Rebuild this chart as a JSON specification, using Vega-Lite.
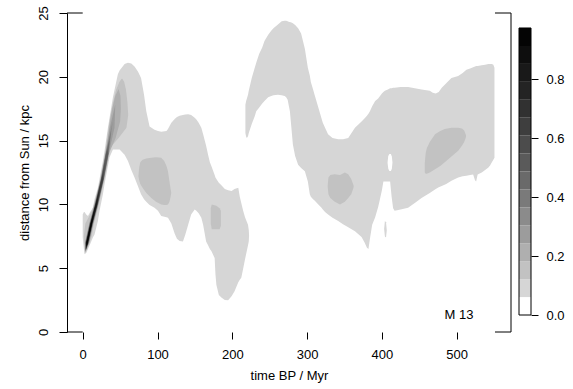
{
  "$schema": "https://vega.github.io/schema/vega-lite/v6.json",
  "background": "white",
  "padding": {"left": 17, "top": 5, "right": 2, "bottom": 2},
  "bounds": "flush",
  "spacing": 8,
  "config": {
    "view": {"stroke": null},
    "axis": {"labelFont": "Liberation Sans", "titleFont": "Liberation Sans", "labelFontSize": 13, "titleFontSize": 13, "titleFontWeight": "normal", "labelColor": "#000", "titleColor": "#000", "tickColor": "#000", "domainColor": "#000", "grid": false},
    "text": {"font": "Liberation Sans"}
  },
  "datasets": {
    "light": [
      {"reg":"A","lev":1,"t":0,"d":7.4,"d2":9.2},{"reg":"A","lev":1,"t":1.6,"d":6.5,"d2":9.4},{"reg":"A","lev":1,"t":2.4,"d":6.1,"d2":9.4},{"reg":"A","lev":1,"t":4.7,"d":6.2,"d2":9.2},{"reg":"A","lev":1,"t":7,"d":6.5,"d2":9.1},{"reg":"A","lev":1,"t":10,"d":6.9,"d2":9.4},{"reg":"A","lev":1,"t":13.6,"d":7.4,"d2":9.74},{"reg":"A","lev":1,"t":15.8,"d":7.65,"d2":10.4},{"reg":"A","lev":1,"t":20.3,"d":8.7,"d2":11.3},{"reg":"A","lev":1,"t":22.5,"d":9.5,"d2":12.0},{"reg":"A","lev":1,"t":27,"d":10.8,"d2":13.4},{"reg":"A","lev":1,"t":29.2,"d":11.6,"d2":14.2},{"reg":"A","lev":1,"t":33.7,"d":13.0,"d2":16.0},{"reg":"A","lev":1,"t":35.9,"d":13.7,"d2":16.8},{"reg":"A","lev":1,"t":40.4,"d":14.3,"d2":18.4},{"reg":"A","lev":1,"t":47,"d":14.3,"d2":20.2},{"reg":"A","lev":1,"t":49.3,"d":14.3,"d2":20.5},{"reg":"A","lev":1,"t":56,"d":13.9,"d2":21.0},{"reg":"A","lev":1,"t":60.5,"d":13.4,"d2":21.1},{"reg":"A","lev":1,"t":65,"d":12.7,"d2":21.05},{"reg":"A","lev":1,"t":69.3,"d":12.1,"d2":20.8},{"reg":"A","lev":1,"t":74,"d":11.4,"d2":20.4},{"reg":"A","lev":1,"t":78,"d":10.8,"d2":19.9},{"reg":"A","lev":1,"t":82,"d":10.4,"d2":18.6},{"reg":"A","lev":1,"t":85,"d":10.2,"d2":17.3},{"reg":"A","lev":1,"t":89.4,"d":9.95,"d2":16.1},{"reg":"A","lev":1,"t":96,"d":9.74,"d2":15.85},{"reg":"A","lev":1,"t":100.6,"d":9.5,"d2":15.75},{"reg":"A","lev":1,"t":105,"d":9.1,"d2":15.7},{"reg":"A","lev":1,"t":112,"d":9.0,"d2":15.75},{"reg":"A","lev":1,"t":114,"d":8.96,"d2":15.9},{"reg":"A","lev":1,"t":118.5,"d":8.5,"d2":16.4},{"reg":"A","lev":1,"t":123,"d":7.7,"d2":16.7},{"reg":"A","lev":1,"t":126,"d":7.3,"d2":16.85},{"reg":"A","lev":1,"t":129.6,"d":7.13,"d2":16.95},{"reg":"A","lev":1,"t":134,"d":7.1,"d2":17.0},{"reg":"A","lev":1,"t":137,"d":7.6,"d2":17.05},{"reg":"A","lev":1,"t":141,"d":8.4,"d2":17.06},{"reg":"A","lev":1,"t":145,"d":9.2,"d2":17.0},{"reg":"A","lev":1,"t":149.7,"d":9.6,"d2":16.8},{"reg":"A","lev":1,"t":152,"d":9.5,"d2":16.65},{"reg":"A","lev":1,"t":155,"d":9.3,"d2":16.4},{"reg":"A","lev":1,"t":158.6,"d":8.96,"d2":16.0},{"reg":"A","lev":1,"t":161,"d":8.4,"d2":15.5},{"reg":"A","lev":1,"t":165,"d":7.1,"d2":14.6},{"reg":"A","lev":1,"t":167.6,"d":6.8,"d2":13.9},{"reg":"A","lev":1,"t":170,"d":6.5,"d2":13.3},{"reg":"A","lev":1,"t":172,"d":6.35,"d2":13.0},{"reg":"A","lev":1,"t":176.4,"d":5.8,"d2":12.3},{"reg":"A","lev":1,"t":177.5,"d":4.5,"d2":12.1},{"reg":"A","lev":1,"t":178.7,"d":3.7,"d2":12.0},{"reg":"A","lev":1,"t":182,"d":2.9,"d2":11.7},{"reg":"A","lev":1,"t":185.4,"d":2.7,"d2":11.5},{"reg":"A","lev":1,"t":190,"d":2.5,"d2":11.2},{"reg":"A","lev":1,"t":194.4,"d":2.48,"d2":11.1},{"reg":"A","lev":1,"t":199,"d":2.8,"d2":11.05},{"reg":"A","lev":1,"t":203,"d":3.2,"d2":11.2},{"reg":"A","lev":1,"t":208,"d":3.9,"d2":11.3},{"reg":"A","lev":1,"t":210,"d":4.1,"d2":10.6},{"reg":"A","lev":1,"t":212,"d":4.25,"d2":10.1},{"reg":"A","lev":1,"t":214.5,"d":4.95,"d2":9.5},{"reg":"A","lev":1,"t":217,"d":5.7,"d2":9.0},{"reg":"A","lev":1,"t":219,"d":6.25,"d2":8.7},{"reg":"A","lev":1,"t":221,"d":6.8,"d2":8.4},{"reg":"A","lev":1,"t":222,"d":7.1,"d2":8.0},{"reg":"A","lev":1,"t":222.4,"d":7.55,"d2":7.6},
      {"reg":"D","lev":1,"t":217.5,"d":15.6,"d2":17.8},{"reg":"D","lev":1,"t":218.5,"d":15.3,"d2":18.1},{"reg":"D","lev":1,"t":219.5,"d":15.2,"d2":18.3},{"reg":"D","lev":1,"t":221,"d":15.35,"d2":18.6},{"reg":"D","lev":1,"t":222,"d":15.6,"d2":18.9},{"reg":"D","lev":1,"t":226,"d":16.3,"d2":19.9},{"reg":"D","lev":1,"t":230,"d":16.9,"d2":20.7},{"reg":"D","lev":1,"t":232,"d":17.3,"d2":21.1},{"reg":"D","lev":1,"t":236,"d":17.6,"d2":21.8},{"reg":"D","lev":1,"t":240,"d":17.9,"d2":22.3},{"reg":"D","lev":1,"t":243,"d":18.1,"d2":22.8},{"reg":"D","lev":1,"t":248,"d":18.4,"d2":23.3},{"reg":"D","lev":1,"t":252,"d":18.5,"d2":23.6},{"reg":"D","lev":1,"t":255,"d":18.55,"d2":23.8},{"reg":"D","lev":1,"t":261,"d":18.6,"d2":24.1},{"reg":"D","lev":1,"t":266,"d":18.55,"d2":24.35},{"reg":"D","lev":1,"t":270,"d":18.5,"d2":24.4},{"reg":"D","lev":1,"t":272,"d":18.4,"d2":24.4},{"reg":"D","lev":1,"t":274,"d":18.2,"d2":24.35},{"reg":"D","lev":1,"t":276,"d":17.6,"d2":24.3},{"reg":"D","lev":1,"t":277,"d":17.3,"d2":24.3},{"reg":"D","lev":1,"t":279,"d":16.0,"d2":24.25},{"reg":"D","lev":1,"t":281,"d":14.7,"d2":24.2},{"reg":"D","lev":1,"t":284,"d":13.8,"d2":24.05},{"reg":"D","lev":1,"t":288,"d":13.1,"d2":23.8},{"reg":"D","lev":1,"t":292,"d":12.85,"d2":23.4},{"reg":"D","lev":1,"t":297,"d":12.6,"d2":22.2},{"reg":"D","lev":1,"t":301,"d":11.8,"d2":20.7},{"reg":"D","lev":1,"t":303.6,"d":10.8,"d2":20.1},{"reg":"D","lev":1,"t":305,"d":10.6,"d2":19.6},{"reg":"D","lev":1,"t":308,"d":10.4,"d2":19.0},{"reg":"D","lev":1,"t":310,"d":10.3,"d2":18.6},{"reg":"D","lev":1,"t":315,"d":10.0,"d2":17.6},{"reg":"D","lev":1,"t":319,"d":9.75,"d2":16.8},{"reg":"D","lev":1,"t":321,"d":9.6,"d2":16.4},{"reg":"D","lev":1,"t":324,"d":9.4,"d2":16.0},{"reg":"D","lev":1,"t":328,"d":9.2,"d2":15.5},{"reg":"D","lev":1,"t":334,"d":8.95,"d2":15.2},{"reg":"D","lev":1,"t":341.6,"d":8.7,"d2":15.1},{"reg":"D","lev":1,"t":348,"d":8.45,"d2":15.1},{"reg":"D","lev":1,"t":355,"d":8.2,"d2":15.2},{"reg":"D","lev":1,"t":364,"d":7.9,"d2":16.0},{"reg":"D","lev":1,"t":372.8,"d":7.45,"d2":16.5},{"reg":"D","lev":1,"t":377,"d":7.0,"d2":16.75},{"reg":"D","lev":1,"t":380,"d":6.6,"d2":16.95},{"reg":"D","lev":1,"t":382,"d":6.5,"d2":17.1},{"reg":"D","lev":1,"t":384,"d":7.3,"d2":17.3},{"reg":"D","lev":1,"t":387,"d":8.4,"d2":17.7},{"reg":"D","lev":1,"t":391,"d":9.0,"d2":18.1},{"reg":"D","lev":1,"t":395,"d":9.8,"d2":18.3},{"reg":"D","lev":1,"t":397,"d":10.3,"d2":18.45},{"reg":"D","lev":1,"t":400,"d":11.1,"d2":18.7},{"reg":"D","lev":1,"t":402,"d":11.8,"d2":18.8},{"reg":"D","lev":1,"t":404,"d":11.8,"d2":18.9},{"reg":"D","lev":1,"t":408,"d":11.8,"d2":19.0},{"reg":"D","lev":1,"t":411,"d":11.8,"d2":19.1},{"reg":"D","lev":1,"t":413,"d":10.6,"d2":19.1},{"reg":"D","lev":1,"t":415,"d":9.7,"d2":19.15},{"reg":"D","lev":1,"t":417,"d":9.5,"d2":19.15},{"reg":"D","lev":1,"t":425,"d":9.6,"d2":19.2},{"reg":"D","lev":1,"t":435,"d":9.74,"d2":19.2},{"reg":"D","lev":1,"t":444,"d":10.1,"d2":19.1},{"reg":"D","lev":1,"t":453,"d":10.5,"d2":19.0},{"reg":"D","lev":1,"t":464,"d":10.9,"d2":18.9},{"reg":"D","lev":1,"t":468,"d":11.05,"d2":18.75},{"reg":"D","lev":1,"t":472,"d":11.2,"d2":18.7},{"reg":"D","lev":1,"t":476,"d":11.35,"d2":18.8},{"reg":"D","lev":1,"t":480,"d":11.45,"d2":19.15},{"reg":"D","lev":1,"t":486,"d":11.6,"d2":19.5},{"reg":"D","lev":1,"t":493,"d":11.85,"d2":19.9},{"reg":"D","lev":1,"t":502,"d":12.1,"d2":20.06},{"reg":"D","lev":1,"t":508,"d":12.2,"d2":20.3},{"reg":"D","lev":1,"t":513,"d":12.25,"d2":20.55},{"reg":"D","lev":1,"t":518,"d":12.3,"d2":20.65},{"reg":"D","lev":1,"t":522,"d":12.35,"d2":20.75},{"reg":"D","lev":1,"t":524.5,"d":11.9,"d2":20.8},{"reg":"D","lev":1,"t":526,"d":11.8,"d2":20.85},{"reg":"D","lev":1,"t":528,"d":12.35,"d2":20.85},{"reg":"D","lev":1,"t":533.5,"d":12.5,"d2":20.9},{"reg":"D","lev":1,"t":538,"d":12.7,"d2":20.95},{"reg":"D","lev":1,"t":542.4,"d":12.9,"d2":21.0},{"reg":"D","lev":1,"t":544.6,"d":13.05,"d2":21.0},{"reg":"D","lev":1,"t":547,"d":13.3,"d2":21.0},{"reg":"D","lev":1,"t":549,"d":13.5,"d2":20.95},{"reg":"D","lev":1,"t":550.5,"d":13.66,"d2":20.7},
      {"reg":"D2","lev":1,"t":403,"d":8.05,"d2":8.1},{"reg":"D2","lev":1,"t":404,"d":7.5,"d2":8.7},{"reg":"D2","lev":1,"t":405.5,"d":7.4,"d2":8.6},{"reg":"D2","lev":1,"t":406.5,"d":7.95,"d2":8.0}
    ],
    "holes": [
      {"reg":"H","lev":0,"t":407.6,"d":13.25,"d2":13.3},{"reg":"H","lev":0,"t":408.5,"d":12.8,"d2":13.8},{"reg":"H","lev":0,"t":410,"d":12.62,"d2":13.95},{"reg":"H","lev":0,"t":412,"d":12.62,"d2":13.95},{"reg":"H","lev":0,"t":413.3,"d":12.8,"d2":13.75},{"reg":"H","lev":0,"t":414.1,"d":13.25,"d2":13.3}
    ],
    "blobs": [
      {"reg":"B","lev":2,"t":74.5,"d":12.2,"d2":12.25},{"reg":"B","lev":2,"t":75.5,"d":11.9,"d2":12.9},{"reg":"B","lev":2,"t":77,"d":11.6,"d2":13.3},{"reg":"B","lev":2,"t":80,"d":11.3,"d2":13.5},{"reg":"B","lev":2,"t":85,"d":10.9,"d2":13.6},{"reg":"B","lev":2,"t":91.7,"d":10.5,"d2":13.65},{"reg":"B","lev":2,"t":98,"d":10.2,"d2":13.7},{"reg":"B","lev":2,"t":105,"d":10.0,"d2":13.66},{"reg":"B","lev":2,"t":109,"d":9.95,"d2":13.4},{"reg":"B","lev":2,"t":112,"d":9.95,"d2":13.0},{"reg":"B","lev":2,"t":114,"d":10.0,"d2":12.6},{"reg":"B","lev":2,"t":116,"d":10.2,"d2":11.8},{"reg":"B","lev":2,"t":117.5,"d":10.6,"d2":11.2},{"reg":"B","lev":2,"t":118.3,"d":10.9,"d2":10.95},
      {"reg":"C","lev":2,"t":171.2,"d":8.5,"d2":9.7},{"reg":"C","lev":2,"t":172.5,"d":8.05,"d2":10.0},{"reg":"C","lev":2,"t":178.7,"d":8.05,"d2":9.9},{"reg":"C","lev":2,"t":183,"d":8.05,"d2":9.7},{"reg":"C","lev":2,"t":184.7,"d":8.3,"d2":9.5},
      {"reg":"E","lev":2,"t":327.5,"d":11.4,"d2":11.45},{"reg":"E","lev":2,"t":328.5,"d":10.8,"d2":12.1},{"reg":"E","lev":2,"t":331,"d":10.5,"d2":12.3},{"reg":"E","lev":2,"t":337,"d":10.2,"d2":12.36},{"reg":"E","lev":2,"t":344,"d":10.0,"d2":12.3},{"reg":"E","lev":2,"t":350.5,"d":10.2,"d2":12.5},{"reg":"E","lev":2,"t":355,"d":10.5,"d2":12.36},{"reg":"E","lev":2,"t":359,"d":10.8,"d2":12.0},{"reg":"E","lev":2,"t":361.7,"d":11.25,"d2":11.55},{"reg":"E","lev":2,"t":362.3,"d":11.4,"d2":11.45},
      {"reg":"F","lev":2,"t":457.3,"d":12.5,"d2":13.2},{"reg":"F","lev":2,"t":458.5,"d":12.4,"d2":14.0},{"reg":"F","lev":2,"t":460,"d":12.4,"d2":14.4},{"reg":"F","lev":2,"t":464,"d":12.5,"d2":14.9},{"reg":"F","lev":2,"t":471,"d":12.75,"d2":15.5},{"reg":"F","lev":2,"t":478,"d":13.0,"d2":15.75},{"reg":"F","lev":2,"t":484,"d":13.3,"d2":15.9},{"reg":"F","lev":2,"t":493,"d":13.75,"d2":16.0},{"reg":"F","lev":2,"t":502,"d":14.2,"d2":16.0},{"reg":"F","lev":2,"t":507,"d":14.6,"d2":15.95},{"reg":"F","lev":2,"t":510,"d":14.9,"d2":15.8},{"reg":"F","lev":2,"t":512,"d":15.2,"d2":15.5},{"reg":"F","lev":2,"t":512.5,"d":15.35,"d2":15.4}
    ],
    "streak": [
      {"lev":2,"d":6.2,"t":3.0,"t2":3.2},{"lev":2,"d":6.5,"t":2.5,"t2":6.3},{"lev":2,"d":7.5,"t":1.5,"t2":12},{"lev":2,"d":8.5,"t":3.5,"t2":15},{"lev":2,"d":9.5,"t":12.5,"t2":19.5},{"lev":2,"d":10.5,"t":17.5,"t2":23.5},{"lev":2,"d":11.5,"t":21.8,"t2":27.3},{"lev":2,"d":12.5,"t":25,"t2":31},{"lev":2,"d":13.5,"t":28.3,"t2":34.2},{"lev":2,"d":14.5,"t":31,"t2":37.5},{"lev":2,"d":15.2,"t":32.5,"t2":48},{"lev":2,"d":16,"t":34.5,"t2":58.5},{"lev":2,"d":17,"t":37.2,"t2":60.8},{"lev":2,"d":18,"t":40.6,"t2":59.8},{"lev":2,"d":19,"t":44.8,"t2":57.8},{"lev":2,"d":19.6,"t":49,"t2":55.5},{"lev":2,"d":19.85,"t":52,"t2":53},
      {"lev":3,"d":6.25,"t":3.5,"t2":3.5},{"lev":3,"d":7,"t":2.9,"t2":8.7},{"lev":3,"d":8.5,"t":8.7,"t2":14.3},{"lev":3,"d":10,"t":15.6,"t2":20.9},{"lev":3,"d":12,"t":23.9,"t2":28.7},{"lev":3,"d":14,"t":30.3,"t2":35.2},{"lev":3,"d":15.2,"t":33.8,"t2":44},{"lev":3,"d":16.5,"t":36.5,"t2":50},{"lev":3,"d":17.5,"t":39.5,"t2":51},{"lev":3,"d":18.5,"t":43.5,"t2":50.5},{"lev":3,"d":19.05,"t":48,"t2":48},
      {"lev":4,"d":6.29,"t":3.6,"t2":3.6},{"lev":4,"d":7,"t":3.25,"t2":8.35},{"lev":4,"d":8.5,"t":9.0,"t2":14.0},{"lev":4,"d":10,"t":15.9,"t2":20.6},{"lev":4,"d":12,"t":24.2,"t2":28.4},{"lev":4,"d":14,"t":30.6,"t2":34.9},{"lev":4,"d":16,"t":36.3,"t2":42.5},{"lev":4,"d":17.8,"t":43.5,"t2":43.5},
      {"lev":5,"d":6.33,"t":3.7,"t2":3.7},{"lev":5,"d":7,"t":3.5,"t2":8.1},{"lev":5,"d":8.5,"t":9.3,"t2":13.7},{"lev":5,"d":10,"t":16.2,"t2":20.3},{"lev":5,"d":12,"t":24.4,"t2":28.2},{"lev":5,"d":14,"t":30.8,"t2":34.7},{"lev":5,"d":16.5,"t":40,"t2":40},
      {"lev":6,"d":6.37,"t":3.85,"t2":3.85},{"lev":6,"d":7,"t":3.75,"t2":7.85},{"lev":6,"d":8.5,"t":9.5,"t2":13.5},{"lev":6,"d":10,"t":16.4,"t2":20.1},{"lev":6,"d":12,"t":24.6,"t2":28.0},{"lev":6,"d":14,"t":31.0,"t2":34.5},{"lev":6,"d":15.8,"t":37.9,"t2":37.9},
      {"lev":7,"d":6.41,"t":4.0,"t2":4.0},{"lev":7,"d":7,"t":4.0,"t2":7.6},{"lev":7,"d":8.5,"t":9.75,"t2":13.25},{"lev":7,"d":10,"t":16.6,"t2":19.9},{"lev":7,"d":12,"t":24.8,"t2":27.8},{"lev":7,"d":14,"t":31.2,"t2":34.3},{"lev":7,"d":15.0,"t":35.6,"t2":35.6},
      {"lev":8,"d":6.45,"t":4.1,"t2":4.1},{"lev":8,"d":7,"t":4.2,"t2":7.4},{"lev":8,"d":8.5,"t":9.95,"t2":13.05},{"lev":8,"d":10,"t":16.8,"t2":19.7},{"lev":8,"d":12,"t":25.0,"t2":27.6},{"lev":8,"d":14,"t":31.4,"t2":34.1},{"lev":8,"d":14.3,"t":32.9,"t2":32.9},
      {"lev":9,"d":6.49,"t":4.25,"t2":4.25},{"lev":9,"d":7,"t":4.37,"t2":7.23},{"lev":9,"d":8.5,"t":10.1,"t2":12.9},{"lev":9,"d":10,"t":16.95,"t2":19.55},{"lev":9,"d":12,"t":25.1,"t2":27.5},{"lev":9,"d":13.3,"t":30.0,"t2":30.0},
      {"lev":10,"d":6.53,"t":4.4,"t2":4.4},{"lev":10,"d":7,"t":4.54,"t2":7.06},{"lev":10,"d":8.5,"t":10.3,"t2":12.7},{"lev":10,"d":10,"t":17.1,"t2":19.4},{"lev":10,"d":12,"t":25.3,"t2":27.3},{"lev":10,"d":12.4,"t":26.6,"t2":26.6},
      {"lev":11,"d":6.57,"t":4.55,"t2":4.55},{"lev":11,"d":7,"t":4.68,"t2":6.92},{"lev":11,"d":8.5,"t":10.4,"t2":12.6},{"lev":11,"d":10,"t":17.2,"t2":19.3},{"lev":11,"d":11.6,"t":24.0,"t2":24.0},
      {"lev":12,"d":6.61,"t":4.7,"t2":4.7},{"lev":12,"d":7,"t":4.8,"t2":6.8},{"lev":12,"d":8.5,"t":10.55,"t2":12.45},{"lev":12,"d":10,"t":17.35,"t2":19.15},{"lev":12,"d":11.0,"t":21.7,"t2":21.7},
      {"lev":13,"d":6.65,"t":4.85,"t2":4.85},{"lev":13,"d":7,"t":4.95,"t2":6.65},{"lev":13,"d":8.5,"t":10.7,"t2":12.3},{"lev":13,"d":10,"t":17.5,"t2":19.0},{"lev":13,"d":10.5,"t":19.9,"t2":19.9},
      {"lev":14,"d":6.69,"t":5.0,"t2":5.0},{"lev":14,"d":7,"t":5.05,"t2":6.55},{"lev":14,"d":8.5,"t":10.8,"t2":12.2},{"lev":14,"d":9.9,"t":17.2,"t2":17.2},
      {"lev":15,"d":6.73,"t":5.1,"t2":5.1},{"lev":15,"d":7,"t":5.15,"t2":6.45},{"lev":15,"d":8.5,"t":10.9,"t2":12.1},{"lev":15,"d":9.4,"t":15.3,"t2":15.3}
    ],
    "frame": [
      {"t":-21,"t2":0,"d":25,"d2":25},{"t":-21,"t2":0,"d":0,"d2":0},{"t":551.2,"t2":572.6,"d":25,"d2":25},{"t":551.2,"t2":572.6,"d":0,"d2":0},{"t":572.6,"t2":572.6,"d":0,"d2":25}
    ],
    "note": [{"t":503,"d":1.3,"txt":"M 13"}],
    "bar": [
      {"lev":0,"lo":0,"hi":0.0608},{"lev":1,"lo":0.0608,"hi":0.1216},{"lev":2,"lo":0.1216,"hi":0.1824},{"lev":3,"lo":0.1824,"hi":0.2432},{"lev":4,"lo":0.2432,"hi":0.304},{"lev":5,"lo":0.304,"hi":0.3648},{"lev":6,"lo":0.3648,"hi":0.4256},{"lev":7,"lo":0.4256,"hi":0.4864},{"lev":8,"lo":0.4864,"hi":0.5472},{"lev":9,"lo":0.5472,"hi":0.608},{"lev":10,"lo":0.608,"hi":0.6688},{"lev":11,"lo":0.6688,"hi":0.7296},{"lev":12,"lo":0.7296,"hi":0.7904},{"lev":13,"lo":0.7904,"hi":0.8512},{"lev":14,"lo":0.8512,"hi":0.912},{"lev":15,"lo":0.912,"hi":0.973}
    ],
    "barframe": [{"lo":0,"hi":0.973}]
  },
  "hconcat": [
    {
      "width": 444,
      "height": 319,
      "encoding": {
        "x": {"field": "t", "type": "quantitative", "scale": {"domain": [-21, 572.6], "nice": false, "zero": false}, "axis": {"title": "time BP / Myr", "values": [0,100,200,300,400,500], "domain": false, "tickSize": 7, "labelPadding": 9, "titlePadding": 8, "labelFlush": false}},
        "y": {"field": "d", "type": "quantitative", "scale": {"domain": [0, 25], "nice": false, "zero": false}, "axis": {"title": "distance from Sun / kpc", "values": [0,5,10,15,20,25], "tickSize": 8, "labelAngle": 270, "labelAlign": "center", "labelBaseline": "alphabetic", "labelPadding": 12, "titlePadding": 6, "labelFlush": false}}
      },
      "layer": [
        {
          "data": {"name": "light"},
          "mark": {"type": "area", "orient": "vertical"},
          "encoding": {
            "y2": {"field": "d2"},
            "detail": {"field": "reg"},
            "color": {"field": "lev", "type": "ordinal", "scale": {"domain": [0,1,2,3,4,5,6,7,8,9,10,11,12,13,14,15], "range": ["#ffffff","#d6d6d6","#c2c2c2","#afafaf","#9c9c9c","#8b8b8b","#7a7a7a","#6a6a6a","#5a5a5a","#4c4c4c","#3e3e3e","#313131","#242424","#191919","#0e0e0e","#040404"]}, "legend": null}
          }
        },
        {
          "data": {"name": "holes"},
          "mark": {"type": "area", "orient": "vertical"},
          "encoding": {
            "y2": {"field": "d2"},
            "detail": {"field": "reg"},
            "color": {"field": "lev", "type": "ordinal", "legend": null}
          }
        },
        {
          "data": {"name": "blobs"},
          "mark": {"type": "area", "orient": "vertical"},
          "encoding": {
            "y2": {"field": "d2"},
            "detail": {"field": "reg"},
            "color": {"field": "lev", "type": "ordinal", "legend": null}
          }
        },
        {
          "data": {"name": "streak"},
          "mark": {"type": "area", "orient": "horizontal"},
          "encoding": {
            "x2": {"field": "t2"},
            "color": {"field": "lev", "type": "ordinal", "legend": null}
          }
        },
        {
          "data": {"name": "frame"},
          "mark": {"type": "rule", "color": "#000", "strokeWidth": 1},
          "encoding": {"x2": {"field": "t2"}, "y2": {"field": "d2"}}
        },
        {
          "data": {"name": "note"},
          "mark": {"type": "text", "fontSize": 13, "align": "center", "baseline": "middle", "color": "#000"},
          "encoding": {"text": {"field": "txt"}}
        }
      ]
    },
    {
      "width": 12,
      "height": 319,
      "encoding": {
        "y": {"field": "lo", "type": "quantitative", "scale": {"domain": [-0.0576, 1.0238], "nice": false, "zero": false}, "axis": {"orient": "right", "title": null, "values": [0, 0.2, 0.4, 0.6, 0.8], "format": ".1f", "domain": false, "tickSize": 7, "labelPadding": 8, "labelFlush": false}}
      },
      "layer": [
        {
          "data": {"name": "bar"},
          "mark": {"type": "rect"},
          "encoding": {
            "y2": {"field": "hi"},
            "color": {"field": "lev", "type": "ordinal", "legend": null}
          }
        },
        {
          "data": {"name": "barframe"},
          "mark": {"type": "rect", "filled": false, "stroke": "#000", "strokeWidth": 1},
          "encoding": {"y2": {"field": "hi"}}
        }
      ]
    }
  ]
}
